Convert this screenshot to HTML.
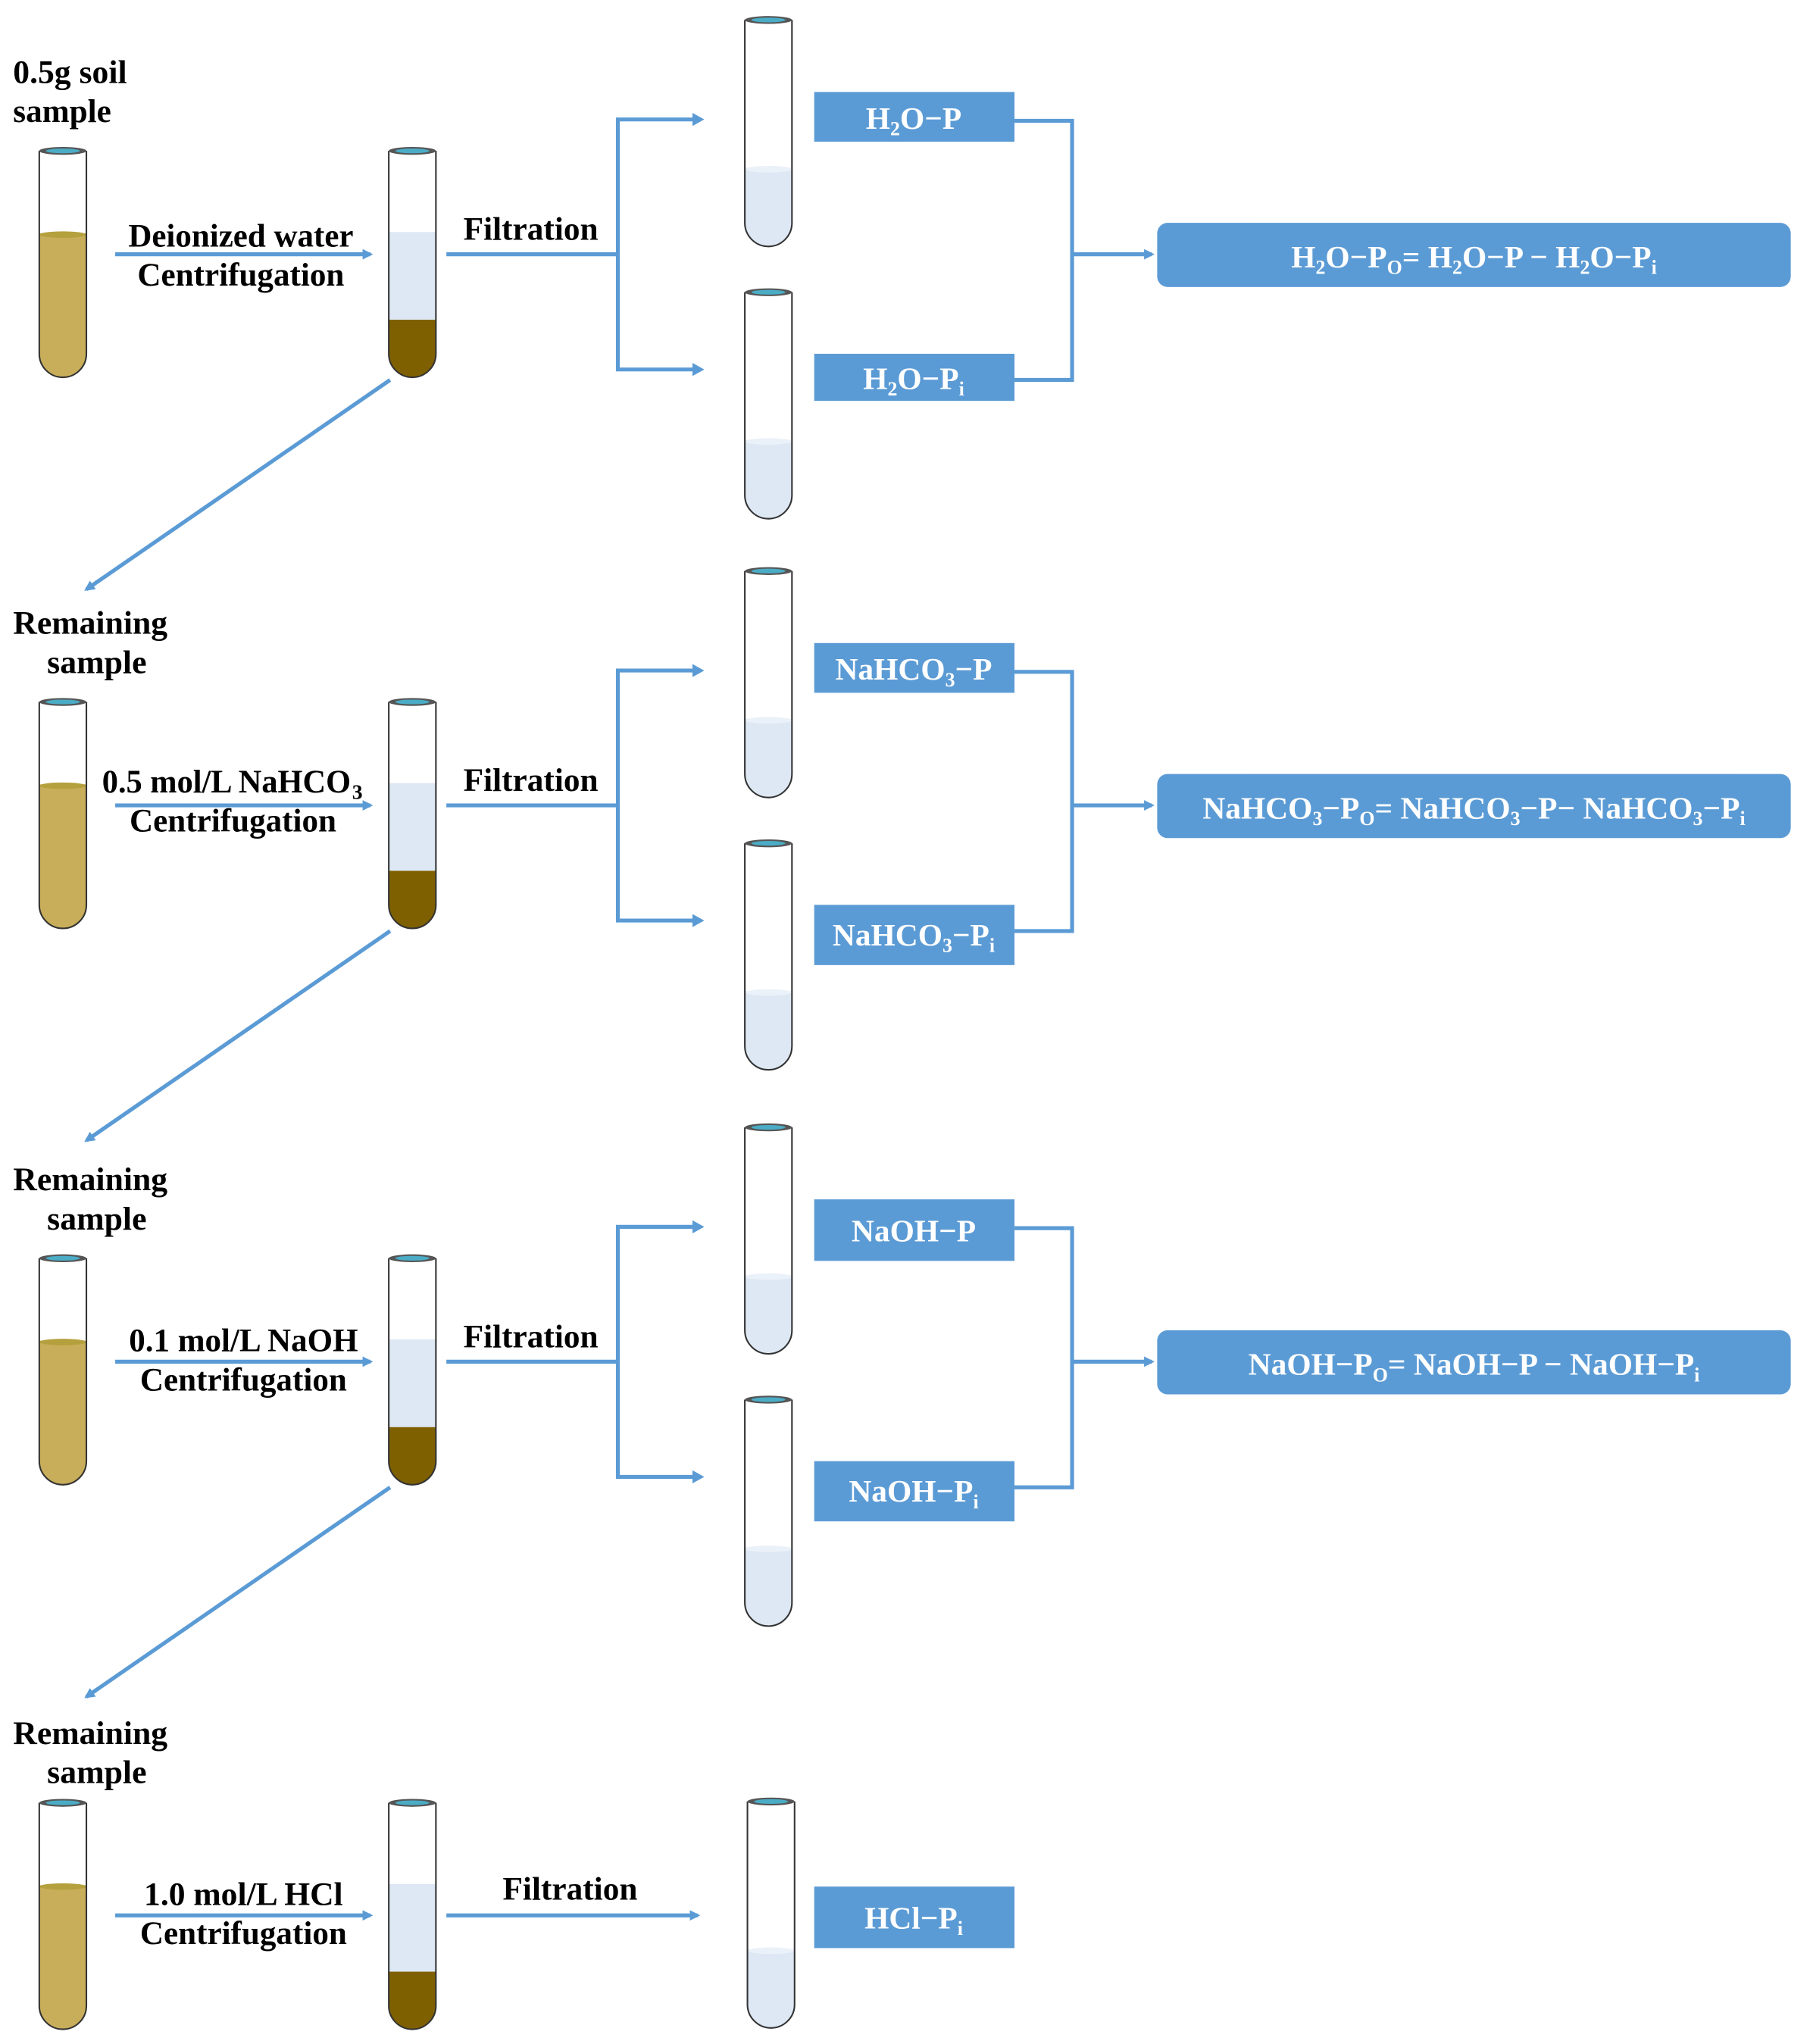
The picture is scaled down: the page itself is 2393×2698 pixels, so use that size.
<!DOCTYPE html>
<html><head><meta charset="utf-8"><style>
html,body{margin:0;padding:0;background:#fff;}
svg{display:block;}
text{font-family:"Liberation Serif",serif;font-weight:bold;}
</style></head><body>
<svg width="2393" height="2698" viewBox="0 0 1385 1561" xmlns="http://www.w3.org/2000/svg">
<defs>
<clipPath id="tc"><path d="M0,2 L0,157 A18,18 0 0 0 36,157 L36,2 Z"/></clipPath>
<marker id="ah" markerWidth="8" markerHeight="8" refX="6" refY="4" orient="auto" markerUnits="userSpaceOnUse"><path d="M0,0 L8,4 L0,8 Z" fill="#5B9BD5"/></marker>
<g id="rim"><path d="M0,2 L0,157 A18,18 0 0 0 36,157 L36,2" fill="none" stroke="#333" stroke-width="1.2"/><ellipse cx="18" cy="2" rx="18" ry="3" fill="#555"/><ellipse cx="18" cy="2" rx="13" ry="1.8" fill="#4BACC6"/></g>
<g id="tA"><g clip-path="url(#tc)"><rect x="0" y="65" width="36" height="115" fill="#C8AE5A"/></g><ellipse cx="18" cy="66" rx="18" ry="2.5" fill="#B5A03E"/><use href="#rim"/></g>
<g id="tB"><g clip-path="url(#tc)"><rect x="0" y="64" width="36" height="67" fill="#DDE8F4"/><rect x="0" y="131" width="36" height="50" fill="#7F6000"/></g><use href="#rim"/></g>
<g id="tC"><g clip-path="url(#tc)"><rect x="0" y="115" width="36" height="65" fill="#DDE8F4"/></g><ellipse cx="18" cy="116" rx="18" ry="2.5" fill="#EAF1F9"/><use href="#rim"/></g>
<g id="common">
<use href="#tA" x="30" y="113"/>
<use href="#tB" x="297" y="113"/>
<line x1="88" y1="194" x2="283" y2="194" stroke="#5B9BD5" stroke-width="3" marker-end="url(#ah)"/>
</g>
<g id="split">
<line x1="341" y1="194" x2="472" y2="194" stroke="#5B9BD5" stroke-width="3"/>
<polyline points="535,91 472,91 472,282 535,282" fill="none" stroke="#5B9BD5" stroke-width="3"/>
<path d="M529,86 L538,91 L529,96 Z M529,277 L538,282 L529,287 Z" fill="#5B9BD5"/>
<use href="#tC" x="569" y="13"/>
<use href="#tC" x="569" y="221"/>
<polyline points="775,92 819,92 819,290 775,290" fill="none" stroke="#5B9BD5" stroke-width="3"/>
<line x1="819" y1="194" x2="880" y2="194" stroke="#5B9BD5" stroke-width="3" marker-end="url(#ah)"/>
<rect x="884" y="170" width="484" height="49" rx="8" fill="#5B9BD5"/>
</g>
<g id="diag"><line x1="298" y1="290" x2="66" y2="450" stroke="#5B9BD5" stroke-width="3" marker-end="url(#ah)"/></g>
</defs>

<!-- Section 1 -->
<text x="10" y="63" font-size="25" textLength="87" lengthAdjust="spacingAndGlyphs">0.5g soil</text>
<text x="10" y="93" font-size="25" textLength="75" lengthAdjust="spacingAndGlyphs">sample</text>
<use href="#common"/>
<use href="#split"/>
<use href="#diag"/>
<text x="184" y="188" font-size="25" text-anchor="middle" textLength="172" lengthAdjust="spacingAndGlyphs">Deionized water</text>
<text x="184" y="218" font-size="25" text-anchor="middle" textLength="158" lengthAdjust="spacingAndGlyphs">Centrifugation</text>
<text x="354" y="183" font-size="25" textLength="103" lengthAdjust="spacingAndGlyphs">Filtration</text>
<rect x="622" y="70" width="153" height="38" fill="#5B9BD5"/>
<text x="698" y="98" font-size="24" fill="#fff" text-anchor="middle">H<tspan font-size="15" dy="5">2</tspan><tspan dy="-5">O−P</tspan></text>
<rect x="622" y="270" width="153" height="36" fill="#5B9BD5"/>
<text x="698" y="297" font-size="24" fill="#fff" text-anchor="middle">H<tspan font-size="15" dy="5">2</tspan><tspan dy="-5">O−P</tspan><tspan font-size="15" dy="5">i</tspan></text>
<text x="1126" y="204" font-size="24" fill="#fff" text-anchor="middle">H<tspan font-size="15" dy="5">2</tspan><tspan dy="-5">O−P</tspan><tspan font-size="15" dy="5">O</tspan><tspan dy="-5">= H</tspan><tspan font-size="15" dy="5">2</tspan><tspan dy="-5">O−P − H</tspan><tspan font-size="15" dy="5">2</tspan><tspan dy="-5">O−P</tspan><tspan font-size="15" dy="5">i</tspan></text>

<!-- Section 2 -->
<g transform="translate(0,421)">
<use href="#common"/><use href="#split"/><use href="#diag"/>
<text x="10" y="63" font-size="25" textLength="118" lengthAdjust="spacingAndGlyphs">Remaining</text>
<text x="36" y="93" font-size="25" textLength="76" lengthAdjust="spacingAndGlyphs">sample</text>
<text x="78" y="184" font-size="25" textLength="190" lengthAdjust="spacingAndGlyphs">0.5 mol/L NaHCO</text><text x="269" y="189" font-size="16">3</text>
<text x="178" y="214" font-size="25" text-anchor="middle" textLength="158" lengthAdjust="spacingAndGlyphs">Centrifugation</text>
<text x="354" y="183" font-size="25" textLength="103" lengthAdjust="spacingAndGlyphs">Filtration</text>
<rect x="622" y="70" width="153" height="38" fill="#5B9BD5"/>
<text x="698" y="98" font-size="24" fill="#fff" text-anchor="middle">NaHCO<tspan font-size="15" dy="5">3</tspan><tspan dy="-5">−P</tspan></text>
<rect x="622" y="270" width="153" height="46" fill="#5B9BD5"/>
<text x="698" y="301" font-size="24" fill="#fff" text-anchor="middle">NaHCO<tspan font-size="15" dy="5">3</tspan><tspan dy="-5">−P</tspan><tspan font-size="15" dy="5">i</tspan></text>
<text x="1126" y="204" font-size="24" fill="#fff" text-anchor="middle">NaHCO<tspan font-size="15" dy="5">3</tspan><tspan dy="-5">−P</tspan><tspan font-size="15" dy="5">O</tspan><tspan dy="-5">= NaHCO</tspan><tspan font-size="15" dy="5">3</tspan><tspan dy="-5">−P− NaHCO</tspan><tspan font-size="15" dy="5">3</tspan><tspan dy="-5">−P</tspan><tspan font-size="15" dy="5">i</tspan></text>
</g>

<!-- Section 3 -->
<g transform="translate(0,846)">
<use href="#common"/><use href="#split"/><use href="#diag"/>
<text x="10" y="63" font-size="25" textLength="118" lengthAdjust="spacingAndGlyphs">Remaining</text>
<text x="36" y="93" font-size="25" textLength="76" lengthAdjust="spacingAndGlyphs">sample</text>
<text x="186" y="186" font-size="25" text-anchor="middle" textLength="175" lengthAdjust="spacingAndGlyphs">0.1 mol/L NaOH</text>
<text x="186" y="216" font-size="25" text-anchor="middle" textLength="158" lengthAdjust="spacingAndGlyphs">Centrifugation</text>
<text x="354" y="183" font-size="25" textLength="103" lengthAdjust="spacingAndGlyphs">Filtration</text>
<rect x="622" y="70" width="153" height="47" fill="#5B9BD5"/>
<text x="698" y="102" font-size="24" fill="#fff" text-anchor="middle">NaOH−P</text>
<rect x="622" y="270" width="153" height="46" fill="#5B9BD5"/>
<text x="698" y="301" font-size="24" fill="#fff" text-anchor="middle">NaOH−P<tspan font-size="15" dy="5">i</tspan></text>
<text x="1126" y="204" font-size="24" fill="#fff" text-anchor="middle">NaOH−P<tspan font-size="15" dy="5">O</tspan><tspan dy="-5">= NaOH−P − NaOH−P</tspan><tspan font-size="15" dy="5">i</tspan></text>
</g>

<!-- Section 4 -->
<g transform="translate(0,1269)">
<use href="#tA" x="30" y="106"/>
<use href="#tB" x="297" y="106"/>
<line x1="88" y1="194" x2="283" y2="194" stroke="#5B9BD5" stroke-width="3" marker-end="url(#ah)"/>
<text x="10" y="63" font-size="25" textLength="118" lengthAdjust="spacingAndGlyphs">Remaining</text>
<text x="36" y="93" font-size="25" textLength="76" lengthAdjust="spacingAndGlyphs">sample</text>
<text x="186" y="186" font-size="25" text-anchor="middle" textLength="152" lengthAdjust="spacingAndGlyphs">1.0 mol/L HCl</text>
<text x="186" y="216" font-size="25" text-anchor="middle" textLength="158" lengthAdjust="spacingAndGlyphs">Centrifugation</text>
<line x1="341" y1="194" x2="533" y2="194" stroke="#5B9BD5" stroke-width="3" marker-end="url(#ah)"/>
<text x="384" y="182" font-size="25" textLength="103" lengthAdjust="spacingAndGlyphs">Filtration</text>
<use href="#tC" x="571" y="105"/>
<rect x="622" y="172" width="153" height="47" fill="#5B9BD5"/>
<text x="698" y="204" font-size="24" fill="#fff" text-anchor="middle">HCl−P<tspan font-size="15" dy="5">i</tspan></text>
</g>
</svg>
</body></html>
